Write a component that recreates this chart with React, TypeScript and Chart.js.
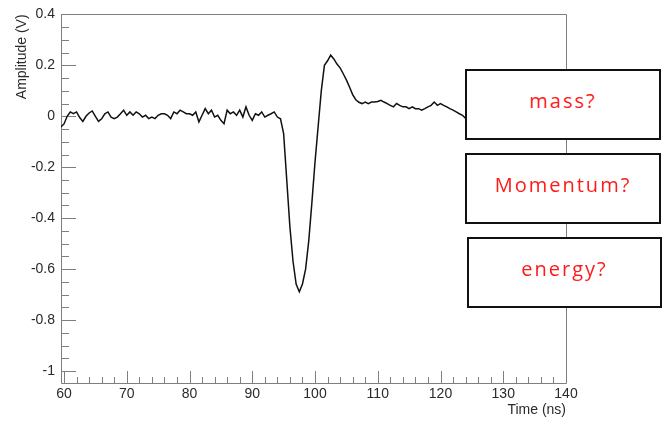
import React, { useEffect, useRef } from "react";
import { Chart, registerables } from "chart.js";

Chart.register(...registerables);

// Time samples (ns) and amplitude (V)
const timeNs: number[] = [
  59.5, 60, 60.5, 61, 61.5, 62, 62.5, 63, 63.5, 64, 64.5, 65, 65.5, 66, 66.5, 67, 67.5, 68, 68.5, 69,
  69.5, 70, 70.5, 71, 71.5, 72, 72.5, 73, 73.5, 74, 74.5, 75, 75.5, 76, 76.5, 77, 77.5, 78, 78.5, 79,
  79.5, 80, 80.5, 81, 81.5, 82, 82.5, 83, 83.5, 84, 84.5, 85, 85.5, 86, 86.5, 87, 87.5, 88, 88.5, 89,
  89.5, 90, 90.5, 91, 91.5, 92, 92.5, 93, 93.5, 94, 94.5, 95, 95.5, 96, 96.5, 97, 97.5, 98, 98.5, 99,
  99.5, 100, 100.5, 101, 101.5, 102, 102.5, 103, 103.5, 104, 104.5, 105, 105.5, 106, 106.5, 107, 107.5, 108, 108.5, 109,
  109.5, 110, 110.5, 111, 111.5, 112, 112.5, 113, 113.5, 114, 114.5, 115, 115.5, 116, 116.5, 117, 117.5, 118, 118.5, 119,
  119.5, 120, 120.5, 121, 121.5, 122, 122.5, 123, 123.5, 124, 124.5, 125,
];

const amplitudeV: number[] = [
  -0.042, -0.03, 0.0, 0.017, 0.01, 0.017, -0.005, -0.02, 0.0, 0.013, 0.021, 0.0, -0.02, -0.01, 0.01, 0.017, -0.003, -0.009, -0.003, 0.01,
  0.024, 0.004, 0.017, 0.004, 0.017, 0.01, -0.003, 0.004, -0.009, -0.003, -0.009, 0.004, 0.01, 0.01, 0.004, -0.009, 0.017, 0.01, 0.024, 0.017,
  0.01, 0.01, 0.004, 0.017, -0.022, 0.004, 0.03, 0.01, 0.024, -0.003, 0.004, -0.016, -0.029, 0.024, 0.01, 0.017, 0.004, 0.024, -0.003, 0.037,
  0.004, -0.016, 0.01, 0.004, 0.017, -0.003, 0.004, 0.01, 0.017, -0.003, -0.01, -0.068, -0.251, -0.434, -0.57, -0.66, -0.689, -0.658, -0.6, -0.49,
  -0.34, -0.18, -0.04, 0.1, 0.2, 0.218, 0.24, 0.225, 0.205, 0.19, 0.167, 0.143, 0.115, 0.085, 0.065, 0.055, 0.05, 0.056, 0.05, 0.056,
  0.056, 0.058, 0.063, 0.056, 0.05, 0.043, 0.037, 0.05, 0.043, 0.037, 0.037, 0.03, 0.037, 0.03, 0.03, 0.024, 0.03, 0.037, 0.043, 0.056,
  0.043, 0.05, 0.043, 0.037, 0.03, 0.024, 0.017, 0.01, 0.004, -0.008, 0.005, 0.01,
];

const xMajorTicks: number[] = [60, 70, 80, 90, 100, 110, 120, 130, 140];
const xMinorTicks: number[] = [
  62, 64, 66, 68, 72, 74, 76, 78, 82, 84, 86, 88, 92, 94, 96, 98, 102, 104, 106, 108,
  112, 114, 116, 118, 122, 124, 126, 128, 132, 134, 136, 138,
];
const yMajorTicks: number[] = [-1, -0.8, -0.6, -0.4, -0.2, 0, 0.2, 0.4];
const yMinorTicks: number[] = [
  -0.95, -0.9, -0.85, -0.75, -0.7, -0.65, -0.55, -0.5, -0.45, -0.35, -0.3, -0.25,
  -0.15, -0.1, -0.05, 0.05, 0.1, 0.15, 0.25, 0.3, 0.35,
];
const xRange: number[] = [59.52, 140];
const yRange: number[] = [-1.047, 0.4];

const questionLabels: string[] = ["mass?", "Momentum?", "energy?"];

const FRAME = "#7f7f7f";
const TEXT = "#2a2a2a";
const FONT = "'Liberation Sans', Arial, Helvetica, sans-serif";

const framePlugin = {
  id: "rootFrame",
  beforeDatasetsDraw(chart: any) {
    const { ctx, chartArea, scales } = chart;
    const { left, right, top, bottom } = chartArea;
    const xs = scales.x;
    const ys = scales.y;
    ctx.save();
    ctx.strokeStyle = FRAME;
    ctx.lineWidth = 1;
    ctx.beginPath();
    ctx.rect(Math.round(left) + 0.5, Math.round(top) + 0.5, Math.round(right - left), Math.round(bottom - top));
    ctx.stroke();
    ctx.beginPath();
    for (const v of yMajorTicks) {
      const py = Math.round(ys.getPixelForValue(v)) + 0.5;
      ctx.moveTo(left, py);
      ctx.lineTo(left + 15, py);
    }
    for (const v of yMinorTicks) {
      const py = Math.round(ys.getPixelForValue(v)) + 0.5;
      ctx.moveTo(left, py);
      ctx.lineTo(left + 8, py);
    }
    for (const v of xMajorTicks) {
      const px = Math.round(xs.getPixelForValue(v)) + 0.5;
      ctx.moveTo(px, bottom);
      ctx.lineTo(px, bottom - 12);
    }
    for (const v of xMinorTicks) {
      const px = Math.round(xs.getPixelForValue(v)) + 0.5;
      ctx.moveTo(px, bottom);
      ctx.lineTo(px, bottom - 6);
    }
    ctx.stroke();
    ctx.restore();
  },
};

export default function App() {
  const canvasRef = useRef<HTMLCanvasElement | null>(null);

  useEffect(() => {
    if (!canvasRef.current) return;
    const points = timeNs.map((t, i) => ({ x: t, y: amplitudeV[i] }));
    const chart = new Chart(canvasRef.current, {
      type: "line",
      data: {
        datasets: [
          {
            data: points,
            borderColor: "#111111",
            borderWidth: 1.5,
            pointRadius: 0,
            tension: 0,
            fill: false,
          },
        ],
      },
      options: {
        animation: false,
        responsive: false,
        devicePixelRatio: 1,
        layout: { padding: { left: 0, top: 14, right: 98, bottom: 0 } },
        plugins: { legend: { display: false }, tooltip: { enabled: false } },
        scales: {
          x: {
            type: "linear",
            min: xRange[0],
            max: xRange[1],
            grid: { display: false, drawTicks: false },
            border: { display: false },
            afterBuildTicks: (s: any) => {
              s.ticks = xMajorTicks.map((v) => ({ value: v }));
            },
            afterFit: (s: any) => {
              s.height = 40;
            },
            ticks: {
              autoSkip: false,
              maxRotation: 0,
              padding: 3,
              color: TEXT,
              font: { family: FONT, size: 14 },
              callback: (v: any) => String(v),
            },
            title: {
              display: true,
              text: "Time (ns)",
              align: "end",
              color: TEXT,
              font: { family: FONT, size: 14 },
              padding: { top: 0, bottom: 4 },
            },
          },
          y: {
            type: "linear",
            min: yRange[0],
            max: yRange[1],
            grid: { display: false, drawTicks: false },
            border: { display: false },
            afterBuildTicks: (s: any) => {
              s.ticks = yMajorTicks.map((v) => ({ value: v }));
            },
            afterFit: (s: any) => {
              s.width = 61;
            },
            ticks: {
              autoSkip: false,
              padding: 6,
              color: TEXT,
              font: { family: FONT, size: 14 },
              callback: (v: any) => String(Math.round(Number(v) * 10) / 10),
            },
            title: {
              display: true,
              text: "Amplitude (V)",
              align: "end",
              color: TEXT,
              font: { family: FONT, size: 14 },
              padding: { top: 14, bottom: 0 },
            },
          },
        },
      },
      plugins: [framePlugin],
    });
    return () => chart.destroy();
  }, []);

  const boxes = [
    { left: 465, top: 69, width: 196, height: 71 },
    { left: 465, top: 153, width: 196, height: 71 },
    { left: 467, top: 237, width: 195, height: 71 },
  ];

  return (
    <div
      style={{
        position: "fixed",
        left: 0,
        top: 0,
        width: 664,
        height: 423,
        background: "#ffffff",
        overflow: "hidden",
      }}
    >
      <canvas ref={canvasRef} width={664} height={423} style={{ width: 664, height: 423, display: "block" }} />
      {boxes.map((b, i) => (
        <div
          key={i}
          style={{
            position: "absolute",
            left: b.left,
            top: b.top,
            width: b.width,
            height: b.height,
            boxSizing: "border-box",
            border: "2px solid #111111",
            background: "#ffffff",
            display: "flex",
            alignItems: "center",
            justifyContent: "center",
            paddingBottom: 8,
            color: "#ff1a1a",
            fontFamily: "'Open Sans', sans-serif",
            fontSize: 20,
            letterSpacing: 2,
          }}
        >
          {questionLabels[i]}
        </div>
      ))}
    </div>
  );
}
